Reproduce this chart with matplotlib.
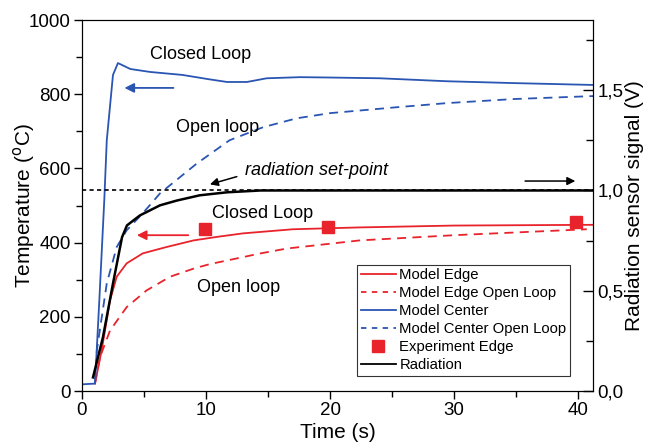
import numpy as np
import matplotlib
matplotlib.use('Agg')
import matplotlib.pyplot as plt
from matplotlib.ticker import MultipleLocator, FuncFormatter
from matplotlib.lines import Line2D

plt.rcParams['font.family'] = ['Liberation Sans', 'DejaVu Sans']

# model center (closed loop)
t_center = [0, 1.05, 1.4, 1.8, 2.0, 2.5, 2.9, 3.9, 5.5, 8.1, 10.3, 11.7, 13.3, 14.9, 17.6,
            20, 24, 29.4, 34.8, 41.2]
center = [18, 20, 245, 515, 676, 852, 884, 868, 860, 852, 840, 833, 833, 843, 846,
          845, 843, 835, 830, 825]

# model center open loop
t_center_ol = [1.05, 1.2, 2.0, 2.8, 3.6, 4.9, 6.3, 9.25, 11.9, 14.6, 17.3, 20, 22.7,
               25.4, 29.4, 34.8, 41.2]
center_ol = [20, 110, 290, 388, 433, 479, 533, 613, 676, 711, 735, 749, 757,
             765, 776, 787, 795]

# model edge (closed loop)
t_edge = [1.05, 1.59, 2.26, 2.8, 3.6, 4.9, 6.8, 9.0, 11.0, 13, 17, 22.4, 30, 41.2]
edge = [20, 110, 244, 308, 344, 371, 388, 406, 416, 425, 436, 441, 446, 448]

# model edge open loop
t_edge_ol = [1.05, 1.45, 2.26, 3.6, 5.2, 7.1, 9.0, 10.3, 14.4, 16.5, 22.4, 30, 40.7]
edge_ol = [20, 91, 163, 226, 271, 308, 330, 342, 371, 384, 406, 420, 436]

# experiment edge
t_exp = [9.9, 19.8, 39.8]
exp_edge = [436, 442, 455]

# radiation signal (V)
t_rad = [0.89, 1.69, 2.5, 3.23, 3.63, 4.68, 6.29, 7.66, 9.5, 11.7, 14.4, 20, 41.2]
rad = [0.068, 0.268, 0.536, 0.767, 0.826, 0.876, 0.926, 0.950, 0.976, 0.991, 1.0, 1.0, 1.0]

setpoint = 1.0

red = '#e8232b'
blue = '#2a55b2'

fig = plt.figure(figsize=(6.49, 4.45), dpi=100)
ax = fig.add_axes([0.1263, 0.1213, 0.7874, 0.8337])
ax2 = ax.twinx()

ax.plot(t_edge, edge, color=red, lw=1.3)
ax.plot(t_edge_ol, edge_ol, color=red, lw=1.3, dashes=(5, 3.5))
ax.plot(t_center, center, color=blue, lw=1.3)
ax.plot(t_center_ol, center_ol, color=blue, lw=1.3, dashes=(5, 3.5))
ax.plot(t_exp, exp_edge, ls='none', marker='s', ms=8, color=red)

ax2.plot([0, 41.2], [setpoint, setpoint], color='black', lw=1.2, dashes=(2.5, 2))
ax2.plot(t_rad, rad, color='black', lw=1.8)

ax.set_xlim(0, 41.2)
ax.set_ylim(0, 1000)
ax2.set_ylim(0, 1.85)

ax.xaxis.set_major_locator(MultipleLocator(10))
ax.xaxis.set_minor_locator(MultipleLocator(5))
ax.yaxis.set_major_locator(MultipleLocator(200))
ax.yaxis.set_minor_locator(MultipleLocator(100))
ax2.yaxis.set_major_locator(MultipleLocator(0.5))
ax2.yaxis.set_minor_locator(MultipleLocator(0.25))
ax2.yaxis.set_major_formatter(FuncFormatter(lambda v, p: ('%.1f' % v).replace('.', ',')))

ax.tick_params(which='major', direction='out', length=6, width=1, labelsize=13.5, pad=2)
ax.tick_params(which='minor', direction='out', length=4, width=1)
ax2.tick_params(which='major', direction='in', length=7, width=1, labelsize=13.5, pad=3)
ax2.tick_params(which='minor', direction='in', length=5, width=1)

ax.set_xlabel('Time (s)', fontsize=15, labelpad=3)
ax.set_ylabel('Temperature ($^{\\rm o}$C)', fontsize=15, labelpad=-6)
ax2.set_ylabel('Radiation sensor signal (V)', fontsize=15, labelpad=1)

# annotations
ax.text(5.5, 906, 'Closed Loop', fontsize=13, va='center')
ax.annotate('', xy=(3.2, 817), xytext=(7.6, 817),
            arrowprops=dict(arrowstyle='-|>', color=blue, lw=1.3, mutation_scale=14))
ax.text(7.6, 711, 'Open loop', fontsize=13, va='center')
ax.text(13.15, 595, 'radiation set-point', fontsize=13, style='italic', va='center')
ax.annotate('', xy=(10.1, 555), xytext=(12.7, 580),
            arrowprops=dict(arrowstyle='-|>', color='black', lw=1.1, mutation_scale=12))
ax.annotate('', xy=(40.0, 566), xytext=(35.5, 566),
            arrowprops=dict(arrowstyle='-|>', color='black', lw=1.1, mutation_scale=12))
ax.text(10.5, 479, 'Closed Loop', fontsize=13, va='center')
ax.annotate('', xy=(4.2, 420), xytext=(8.8, 420),
            arrowprops=dict(arrowstyle='-|>', color=red, lw=1.3, mutation_scale=14))
ax.text(9.3, 280, 'Open loop', fontsize=13, va='center')

handles = [
    Line2D([], [], color=red, lw=1.3),
    Line2D([], [], color=red, lw=1.3, dashes=(3, 3)),
    Line2D([], [], color=blue, lw=1.3),
    Line2D([], [], color=blue, lw=1.3, dashes=(3, 3)),
    Line2D([], [], color=red, ls='none', marker='s', ms=8),
    Line2D([], [], color='black', lw=1.3),
]
labels = ['Model Edge', 'Model Edge Open Loop', 'Model Center',
          'Model Center Open Loop', 'Experiment Edge', 'Radiation']
leg = ax2.legend(handles, labels, loc='lower left', bbox_to_anchor=(0.538, 0.04),
                 fontsize=10.7, frameon=True, fancybox=False, edgecolor='black',
                 handlelength=2.35, handletextpad=0.25, labelspacing=0.27,
                 borderpad=0.25, borderaxespad=0)
leg.get_frame().set_linewidth(0.8)

plt.savefig('out.png', dpi=100)
